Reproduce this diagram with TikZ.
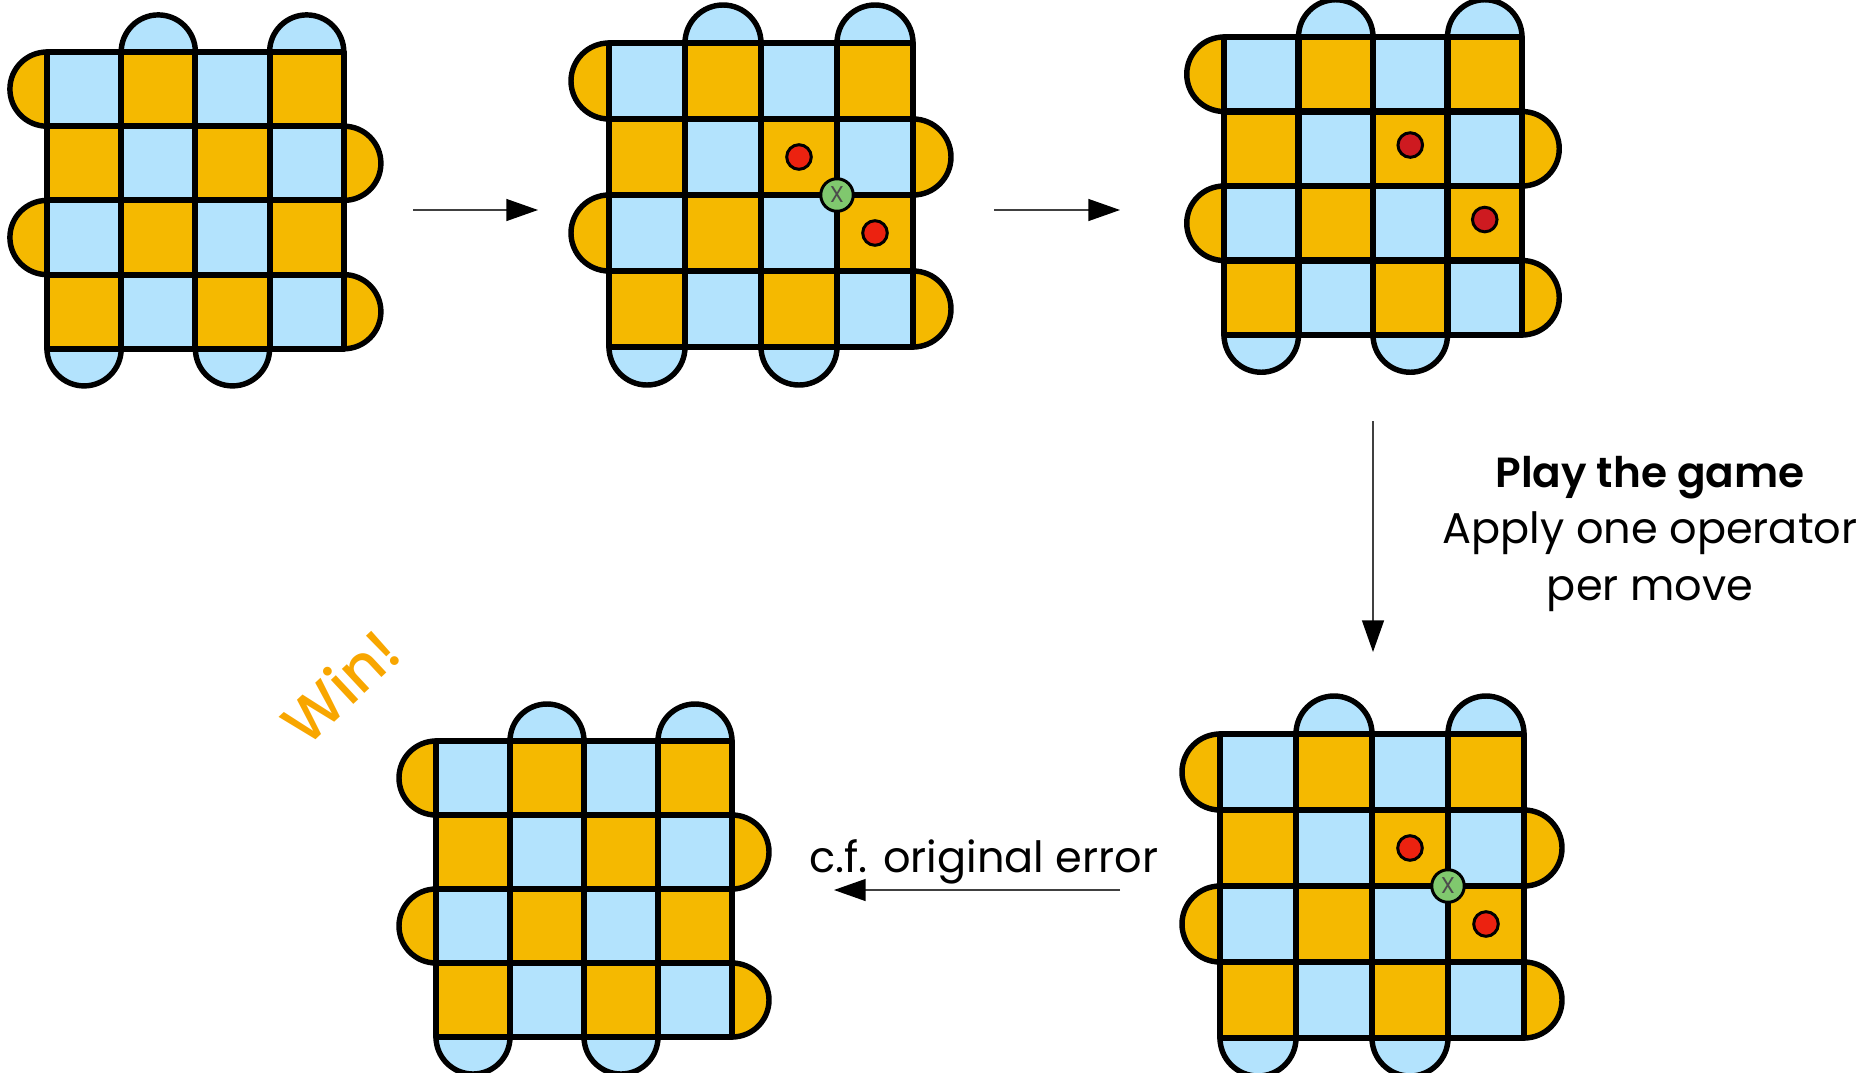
\documentclass[tikz,border=0pt]{standalone}
\usepackage{fontspec}
\setmainfont{Poppins}
\newfontfamily\popmed{Poppins Medium}
\newfontfamily\popsemi{Poppins SemiBold}
\usetikzlibrary{arrows.meta}
\definecolor{cblue}{RGB}{179,227,253}
\definecolor{corange}{RGB}{245,185,0}
\definecolor{cred}{RGB}{236,34,16}
\definecolor{cdred}{RGB}{206,26,32}
\definecolor{cgreen}{RGB}{128,200,110}
\definecolor{cwin}{RGB}{248,166,0}
\tikzset{
  gridline/.style={line width=3.5pt, line cap=round, line join=round},
  disc/.style={draw=black, line width=3.1pt},
  reddot/.style={circle, draw=black, line width=1.7pt, fill=cred, minimum size=14pt, inner sep=0pt},
  dreddot/.style={reddot, fill=cdred},
  greendot/.style={circle, draw=black, line width=1.7pt, fill=cgreen, minimum size=18.5pt, inner sep=0pt, text=black!70, font=\fontsize{13}{13}\selectfont},
  flow/.style={line width=0.75pt, draw=black!75, -{Triangle[length=18pt, width=12.5pt, color=black]}},
  label/.style={font=\fontsize{24.5}{30}\selectfont, anchor=base},
}
\newcommand\drawboard[4]{%
  \begin{scope}[shift={(#1,#2)}, x=#3*0.02cm, y=-#3*0.02cm]
    \coordinate (#4) at (2,2);
    \foreach \c in {1.5,3.5} \draw[disc, fill=cblue] (\c,0) circle (0.5);
    \foreach \c in {0.5,2.5} \draw[disc, fill=cblue] (\c,4) circle (0.5);
    \foreach \r in {0.5,2.5} \draw[disc, fill=corange] (0,\r) circle (0.5);
    \foreach \r in {1.5,3.5} \draw[disc, fill=corange] (4,\r) circle (0.5);
    \fill[cblue] (0,0) rectangle (4,4);
    \foreach \i/\j in {1/0,3/0,0/1,2/1,1/2,3/2,0/3,2/3}
      \fill[corange] (\i,\j) rectangle ++(1,1);
    \foreach \k in {1,2,3} {
      \draw[gridline] (\k,0) -- (\k,4);
      \draw[gridline] (0,\k) -- (4,\k);
    }
    \draw[gridline] (0,0) rectangle (4,4);
  \end{scope}%
}
\begin{document}
\begin{tikzpicture}[x=0.02cm, y=-0.02cm]
  \useasboundingbox (0,0) rectangle (1876,1072);
  % boards
  \drawboard{47}{52}{74.2}{b1}
  \drawboard{609}{43}{76}{b2}
  \drawboard{1224}{37}{74.5}{b3}
  \drawboard{436}{741}{74}{b4}
  \drawboard{1220}{734}{76}{b5}
  % markers board 2
  \begin{scope}[shift={(609,43)}, x=76*0.02cm, y=-76*0.02cm]
    \node[reddot] (r2a) at (2.5,1.5) {};
    \node[reddot] (r2b) at (3.5,2.5) {};
    \node[greendot] (g2) at (3,2) {X};
  \end{scope}
  % markers board 3
  \begin{scope}[shift={(1224,37)}, x=74.5*0.02cm, y=-74.5*0.02cm]
    \node[dreddot] (r3a) at (2.5,1.45) {};
    \node[dreddot] (r3b) at (3.5,2.45) {};
  \end{scope}
  % markers board 5
  \begin{scope}[shift={(1220,734)}, x=76*0.02cm, y=-76*0.02cm]
    \node[reddot] (r5a) at (2.5,1.5) {};
    \node[reddot] (r5b) at (3.5,2.5) {};
    \node[greendot] (g5) at (3,2) {X};
  \end{scope}
  % arrows
  \coordinate (a1s) at (413,210);
  \coordinate (a1e) at (538,210);
  \coordinate (a2s) at (994,210);
  \coordinate (a2e) at (1120,210);
  \coordinate (a3s) at (1373,421);
  \coordinate (a3e) at (1373,652);
  \coordinate (a4s) at (1120,890);
  \coordinate (a4e) at (834,890);
  \draw[flow] (a1s) -- (a1e);
  \draw[flow] (a2s) -- (a2e);
  \draw[flow] (a3s) -- (a3e);
  \draw[flow] (a4s) -- (a4e);
  % texts
  \node[label, font=\fontsize{24}{30}\selectfont\popsemi] (play) at (1650,487) {Play the game};
  \node[label] (apply) at (1650,543) {Apply one operator};
  \node[label] (permove) at (1650,600) {per move};
  \node[label] (cf) at (984,872) {c.f. original error};
  \node[font=\fontsize{34}{36}\selectfont\popmed, text=cwin, rotate=43] (win) at (340,686) {Win!};
\end{tikzpicture}
\end{document}
